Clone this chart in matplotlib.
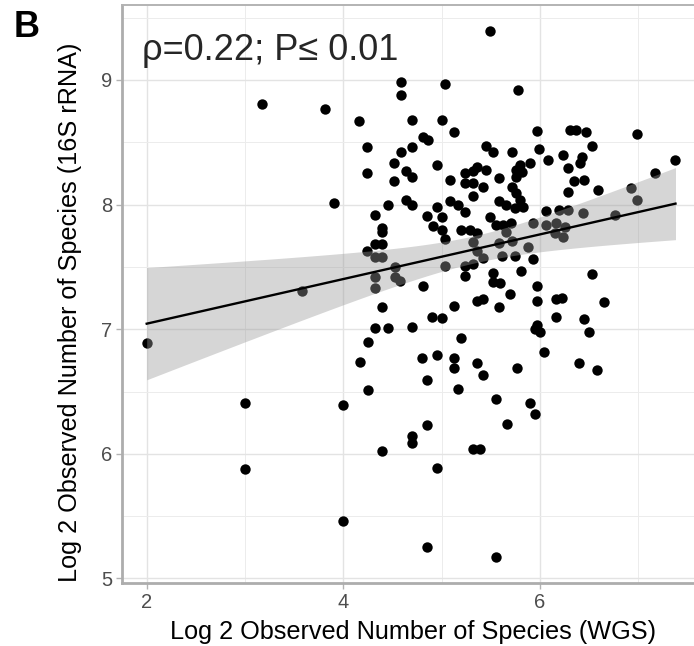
import matplotlib
matplotlib.use("Agg")
import matplotlib.pyplot as plt
import numpy as np
from matplotlib.ticker import MultipleLocator

plt.rcParams["font.family"] = ["Liberation Sans", "DejaVu Sans"]

# log2 observed species, WGS (x) vs 16S rRNA (y)
wgs_log2 = [
    2.00, 3.00, 3.00, 3.17, 3.58, 3.81, 3.91, 4.00, 4.00, 4.16,
    4.17, 4.24, 4.24, 4.24, 4.25, 4.25, 4.32, 4.32, 4.32, 4.32,
    4.32, 4.32, 4.39, 4.39, 4.39, 4.39, 4.39, 4.39, 4.46, 4.46,
    4.52, 4.52, 4.53, 4.53, 4.58, 4.59, 4.59, 4.59, 4.64, 4.64,
    4.70, 4.70, 4.70, 4.70, 4.70, 4.70, 4.70, 4.81, 4.86, 4.81,
    4.85, 4.91, 4.90, 4.80, 4.85, 4.85, 4.85, 4.95, 4.95, 4.95,
    4.95, 5.00, 5.00, 5.00, 5.00, 5.04, 5.04, 5.04, 5.13, 5.09,
    5.09, 5.13, 5.13, 5.13, 5.17, 5.17, 5.20, 5.20, 5.24, 5.24,
    5.24, 5.24, 5.24, 5.29, 5.32, 5.32, 5.32, 5.32, 5.32, 5.32,
    5.36, 5.36, 5.36, 5.36, 5.36, 5.39, 5.42, 5.42, 5.42, 5.42,
    5.45, 5.45, 5.49, 5.49, 5.52, 5.52, 5.52, 5.59, 5.55, 5.58,
    5.58, 5.58, 5.61, 5.58, 5.55, 5.55, 5.66, 5.63, 5.71, 5.66,
    5.70, 5.67, 5.72, 5.72, 5.72, 5.75, 5.75, 5.76, 5.76, 5.76,
    5.78, 5.77, 5.80, 5.80, 5.82, 5.83, 5.81, 5.88, 5.90, 5.90,
    5.93, 5.93, 5.95, 5.95, 5.97, 6.00, 5.97, 5.97, 5.97, 5.99,
    6.04, 6.06, 6.06, 6.08, 6.16, 6.15, 6.16, 6.16, 6.19, 6.23,
    6.24, 6.24, 6.26, 6.29, 6.29, 6.29, 6.31, 6.37, 6.35, 6.41,
    6.43, 6.40, 6.44, 6.45, 6.45, 6.47, 6.50, 6.53, 6.53, 6.58,
    6.59, 6.65, 6.76, 6.93, 6.99, 6.99, 7.17, 7.38,
]
rrna_log2 = [
    6.89, 6.41, 5.88, 8.81, 7.31, 8.77, 8.01, 6.39, 5.46, 8.67,
    6.74, 8.46, 8.25, 7.63, 6.90, 6.51, 7.92, 7.68, 7.58, 7.42,
    7.33, 7.01, 7.81, 7.78, 7.68, 7.58, 7.18, 6.02, 8.00, 7.01,
    8.33, 8.19, 7.50, 7.42, 7.39, 8.98, 8.88, 8.42, 8.27, 8.04,
    8.68, 8.46, 8.22, 8.00, 7.02, 6.14, 6.09, 8.54, 8.52, 7.35,
    7.91, 7.83, 7.10, 6.77, 6.59, 6.23, 5.25, 8.32, 7.98, 6.79,
    5.89, 8.68, 7.90, 7.80, 7.09, 8.97, 7.72, 7.51, 8.58, 8.20,
    8.03, 7.19, 6.77, 6.69, 8.00, 6.52, 7.80, 6.93, 8.25, 8.17,
    7.94, 7.51, 7.43, 7.80, 8.27, 8.17, 8.07, 7.70, 7.52, 6.04,
    8.30, 7.77, 7.63, 7.23, 6.73, 6.04, 8.14, 7.57, 7.24, 6.63,
    8.47, 8.28, 9.39, 7.90, 8.42, 7.45, 7.38, 7.37, 7.84, 8.21,
    8.03, 7.69, 7.59, 7.18, 6.44, 5.17, 7.78, 7.84, 7.85, 8.00,
    7.28, 6.24, 8.42, 8.14, 7.71, 7.59, 7.97, 8.28, 8.22, 8.09,
    8.92, 6.69, 8.32, 8.04, 8.26, 7.98, 7.47, 7.66, 8.33, 6.41,
    7.85, 7.56, 7.00, 6.32, 7.03, 6.98, 8.59, 7.35, 7.23, 8.45,
    6.82, 7.95, 7.84, 8.36, 7.85, 7.77, 7.24, 7.10, 7.96, 7.25,
    8.40, 7.74, 7.82, 8.29, 8.10, 7.96, 8.60, 8.60, 8.19, 8.33,
    8.38, 6.73, 7.93, 8.20, 7.08, 8.58, 6.98, 7.44, 8.47, 6.67,
    8.12, 7.22, 7.92, 8.13, 8.04, 8.57, 8.25, 8.36,
]

STAT_LABEL = "ρ=0.22; P≤ 0.01"
T_975 = 1.973  # two-sided 95% t quantile for ~190 df


def linear_fit_band(x, y, grid):
    x = np.asarray(x)
    y = np.asarray(y)
    slope, intercept = np.polyfit(x, y, 1)
    resid = y - (intercept + slope * x)
    n = len(x)
    s = np.sqrt(np.sum(resid ** 2) / (n - 2))
    sxx = np.sum((x - x.mean()) ** 2)
    se = s * np.sqrt(1.0 / n + (grid - x.mean()) ** 2 / sxx)
    fit = intercept + slope * grid
    return fit, fit - T_975 * se, fit + T_975 * se


fig = plt.figure(figsize=(6.94, 6.46), dpi=100)
ax = fig.add_axes([0.1754, 0.0971, 0.839, 0.8952])

grid = np.linspace(min(wgs_log2), max(wgs_log2), 80)
fit, lo, hi = linear_fit_band(wgs_log2, rrna_log2, grid)

ax.scatter(wgs_log2, rrna_log2, s=56, color="black", linewidths=0, zorder=2)
ax.fill_between(grid, lo, hi, color="#999999", alpha=0.4, linewidth=0, zorder=3)
ax.plot(grid, fit, color="black", linewidth=1.7, zorder=4)

ax.text(1.955, 9.24, STAT_LABEL, fontsize=26, color="#262626", ha="left", va="center")

ax.set_xlim(1.746, 7.67)
ax.set_ylim(4.961, 9.602)
ax.xaxis.set_major_locator(MultipleLocator(2))
ax.xaxis.set_minor_locator(MultipleLocator(1))
ax.yaxis.set_major_locator(MultipleLocator(1))
ax.yaxis.set_minor_locator(MultipleLocator(0.5))
ax.grid(which="major", color="#e3e3e3", linewidth=1.0, zorder=0)
ax.grid(which="minor", color="#ececec", linewidth=0.7, zorder=0)
ax.set_axisbelow(True)

for side in ["top", "right"]:
    ax.spines[side].set_color("#b3b3b3")
    ax.spines[side].set_linewidth(1.4)
for side in ["left", "bottom"]:
    ax.spines[side].set_color("#adadad")
    ax.spines[side].set_linewidth(2.0)

ax.tick_params(which="major", length=4, width=1, color="#b3b3b3",
               labelsize=14.5, labelcolor="#4d4d4d", pad=3)
ax.tick_params(which="minor", length=0)

ax.set_xlabel("Log 2 Observed Number of Species (WGS)", fontsize=18.2, labelpad=6)
ax.set_ylabel("Log 2 Observed Number of Species (16S rRNA)", fontsize=18.2)
ax.yaxis.set_label_coords(-0.068, 0.469)

fig.text(0.019, 0.9427, "B", fontsize=26, fontweight="bold", ha="left", va="baseline")

fig.savefig("out.png", dpi=100)
plt.close(fig)
